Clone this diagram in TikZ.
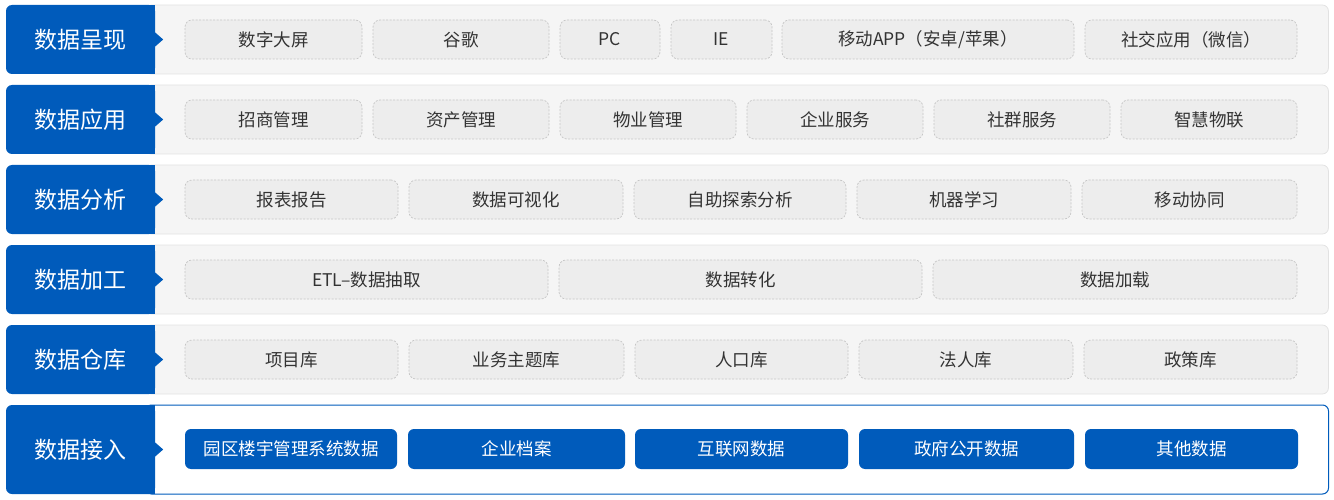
\documentclass[tikz,border=0pt]{standalone}
\usepackage{fontspec}
\setmainfont{Noto Sans CJK SC}
\usetikzlibrary{positioning}
\definecolor{layerblue}{HTML}{005BBB}
\definecolor{panelgray}{HTML}{F5F5F5}
\definecolor{panelline}{HTML}{E2E2E2}
\definecolor{itemgray}{HTML}{EDEDED}
\definecolor{itemline}{HTML}{C6C6C6}
\definecolor{itemtext}{HTML}{333333}
\tikzset{
  layer box/.style={
    fill=layerblue,
    rounded corners=6pt,
    minimum width=149pt,
    minimum height=#1,
    inner sep=0pt
  },
  layer box/.default=69pt,
  layer text/.style={
    text=white,
    font=\fontsize{23}{23}\selectfont,
    inner sep=0pt
  },
  layer panel/.style={
    fill=panelgray, draw=panelline, line width=0.8pt,
    rounded corners=6pt,
    minimum width=1183pt, minimum height=69pt,
    anchor=west, inner sep=0pt
  },
  item box/.style={
    draw=itemline, fill=itemgray,
    dash pattern=on 2pt off 1.5pt, line width=0.7pt,
    rounded corners=7pt,
    minimum height=39pt, inner sep=0pt,
    text=itemtext,
    font=\fontsize{17.5}{17.5}\selectfont
  },
  access box/.style={
    fill=layerblue,
    rounded corners=6pt,
    minimum height=40pt, inner sep=0pt,
    text=white,
    font=\fontsize{17.5}{17.5}\selectfont
  }
}

\begin{document}
\begin{tikzpicture}[x=1pt,y=-1pt]
  \useasboundingbox (0,0) rectangle (1334,500);
  % layers
  \foreach \n/\top/\name in {1/5/数据呈现,2/85/数据应用,3/165/数据分析,4/245/数据加工,5/325/数据仓库} {
    \node[layer panel] (panel\n) at (145,\top+34.5) {};
    \node[layer box] (label\n) at (80.5,\top+34.5) {};
    \fill[layerblue] (label\n.north) rectangle (label\n.south east);
    \fill[layerblue] ([yshift=7pt]label\n.east) -- ([xshift=8pt]label\n.east) -- ([yshift=-7pt]label\n.east) -- cycle;
    \node[layer text] (name\n) at (label\n) {\name};
  }
  % 数据接入
  \node[layer panel, fill=white, draw=layerblue, line width=1pt, minimum height=89pt] (panel6) at (145,449.5) {};
  \node[layer box=89pt] (label6) at (80.5,449.5) {};
  \fill[layerblue] (label6.north) rectangle (label6.south east);
  \fill[layerblue] ([yshift=7pt]label6.east) -- ([xshift=8pt]label6.east) -- ([yshift=-7pt]label6.east) -- cycle;
  \node[layer text] (name6) at (label6) {数据接入};

  % items
  \foreach \l/\r/\t [count=\i] in {185/362/数字大屏,373/549/谷歌,560/660/PC,671/772/IE,782/1074/{移动APP（安卓/苹果）},1085/1297/社交应用（微信）} {
    \pgfmathsetmacro\w{\r-\l}
    \node[item box, minimum width=\w pt] (show\i) at ({(\l+\r)/2},39.5) {\t};
  }
  \foreach \l/\r/\t [count=\i] in {185/362/招商管理,373/549/资产管理,560/736/物业管理,747/923/企业服务,934/1110/社群服务,1121/1297/智慧物联} {
    \pgfmathsetmacro\w{\r-\l}
    \node[item box, minimum width=\w pt] (app\i) at ({(\l+\r)/2},119.5) {\t};
  }
  \foreach \l/\r/\t [count=\i] in {185/398/报表报告,409/623/数据可视化,634/846/自助探索分析,857/1071/机器学习,1082/1297/移动协同} {
    \pgfmathsetmacro\w{\r-\l}
    \node[item box, minimum width=\w pt] (analysis\i) at ({(\l+\r)/2},199.5) {\t};
  }
  \foreach \l/\r/\t [count=\i] in {185/548/ETL–数据抽取,559/922/数据转化,933/1297/数据加载} {
    \pgfmathsetmacro\w{\r-\l}
    \node[item box, minimum width=\w pt] (process\i) at ({(\l+\r)/2},279.5) {\t};
  }
  \foreach \l/\r/\t [count=\i] in {185/398/项目库,409/624/业务主题库,635/848/人口库,859/1073/法人库,1084/1297/政策库} {
    \pgfmathsetmacro\w{\r-\l}
    \node[item box, minimum width=\w pt] (store\i) at ({(\l+\r)/2},359.5) {\t};
  }
  \foreach \l/\r/\t [count=\i] in {185/397/园区楼宇管理系统数据,408/625/企业档案,635/848/互联网数据,859/1074/政府公开数据,1085/1298/其他数据} {
    \pgfmathsetmacro\w{\r-\l}
    \node[access box, minimum width=\w pt] (access\i) at ({(\l+\r)/2},449) {\t};
  }
\end{tikzpicture}
\end{document}
